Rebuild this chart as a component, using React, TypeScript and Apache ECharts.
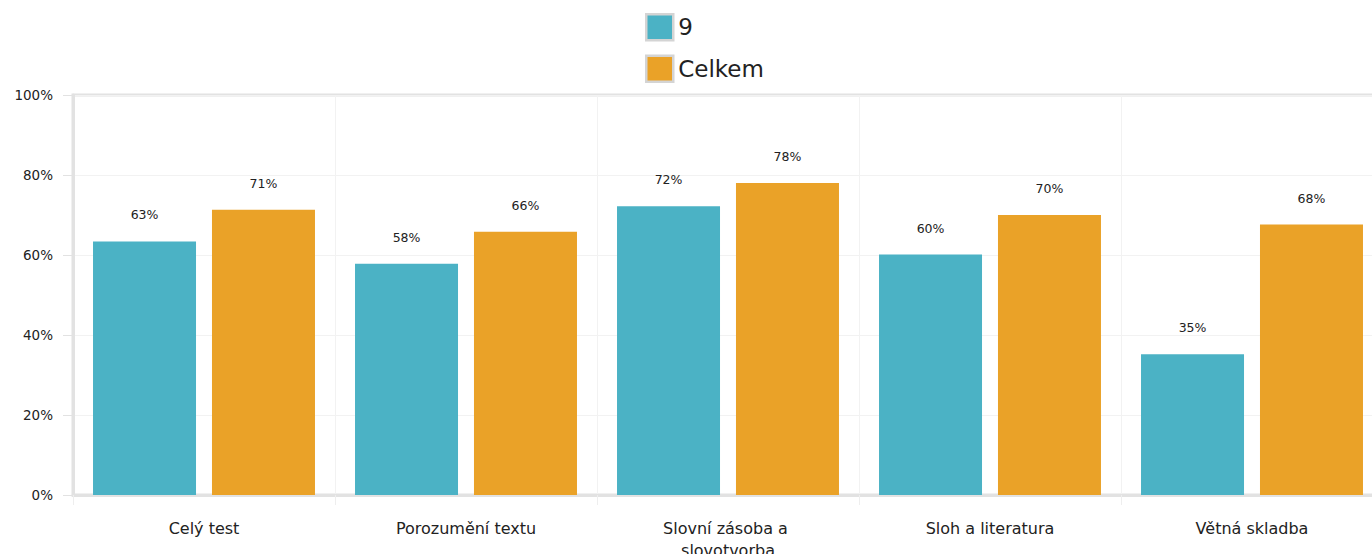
import React, { useEffect, useRef } from "react";
import * as echarts from "echarts";

const categories = ["Celý test", "Porozumění textu", "Slovní zásoba a slovotvorba", "Sloh a literatura", "Větná skladba"];
const series9 = [63.4, 57.8, 72.2, 60.1, 35.2];
const seriesCelkem = [71.3, 65.8, 78.0, 70.0, 67.6];
const seriesNames = ["9", "Celkem"];
const yTicks = [0, 20, 40, 60, 80, 100];

export default function App() {
  const ref = useRef<HTMLDivElement>(null);
  useEffect(() => {
    document.body.style.margin = "0";
    document.body.style.overflow = "hidden";
    const chart = echarts.init(ref.current!, undefined, { renderer: "svg" });
    const font = "DejaVu Sans";
    const label = {
      show: true,
      position: "top" as const,
      distance: 20,
      color: "#222",
      fontFamily: font,
      fontSize: 12.5,
      formatter: (p: any) => Math.round(p.value) + "%",
    };
    chart.setOption({
      animation: false,
      backgroundColor: "#fff",
      legend: {
        orient: "vertical",
        left: 640,
        top: 8,
        itemWidth: 27,
        itemHeight: 26,
        itemGap: 13,
        icon: "rect",
        itemStyle: { borderColor: "#d4d4d4", borderWidth: 2.5 },
        textStyle: { fontFamily: font, fontSize: 23, color: "#222" },
        data: seriesNames,
      },
      grid: {
        left: 73,
        top: 95,
        width: 1310,
        height: 400,
        outerBoundsMode: "none",
        containLabel: false,
        show: true,
        borderColor: "#e2e2e2",
        borderWidth: 3,
      },
      xAxis: {
        type: "category",
        data: categories,
        axisLine: { lineStyle: { color: "#e2e2e2", width: 3 } },
        axisTick: { show: true, interval: 0, length: 10, lineStyle: { color: "#eeeeee" } },
        splitLine: { show: true, interval: 0, lineStyle: { color: "#f2f2f2" } },
        axisLabel: {
          interval: 0,
          hideOverlap: false,
          fontFamily: font,
          fontSize: 16,
          color: "#222",
          margin: 22,
          width: 170,
          overflow: "break",
          lineHeight: 22,
        },
      },
      yAxis: {
        type: "value",
        min: 0,
        max: 100,
        interval: 20,
        axisLine: { show: true, lineStyle: { color: "#e2e2e2", width: 3 } },
        axisTick: { show: true, length: 10, lineStyle: { color: "#e2e2e2" } },
        splitLine: { show: true, lineStyle: { color: "#f2f2f2" } },
        axisLabel: {
          fontFamily: font,
          fontSize: 13.5,
          color: "#222",
          margin: 20,
          formatter: (v: number) => (yTicks.includes(v) ? v + "%" : ""),
        },
      },
      series: [
        {
          name: seriesNames[0],
          type: "bar",
          data: series9,
          barWidth: 103,
          barGap: "15.5%",
          itemStyle: { color: "#4bb2c5" },
          label,
        },
        {
          name: seriesNames[1],
          type: "bar",
          data: seriesCelkem,
          barWidth: 103,
          barGap: "15.5%",
          itemStyle: { color: "#eaa228" },
          label,
        },
      ],
    });
    return () => chart.dispose();
  }, []);
  return <div ref={ref} style={{ width: 1372, height: 554 }} />;
}
